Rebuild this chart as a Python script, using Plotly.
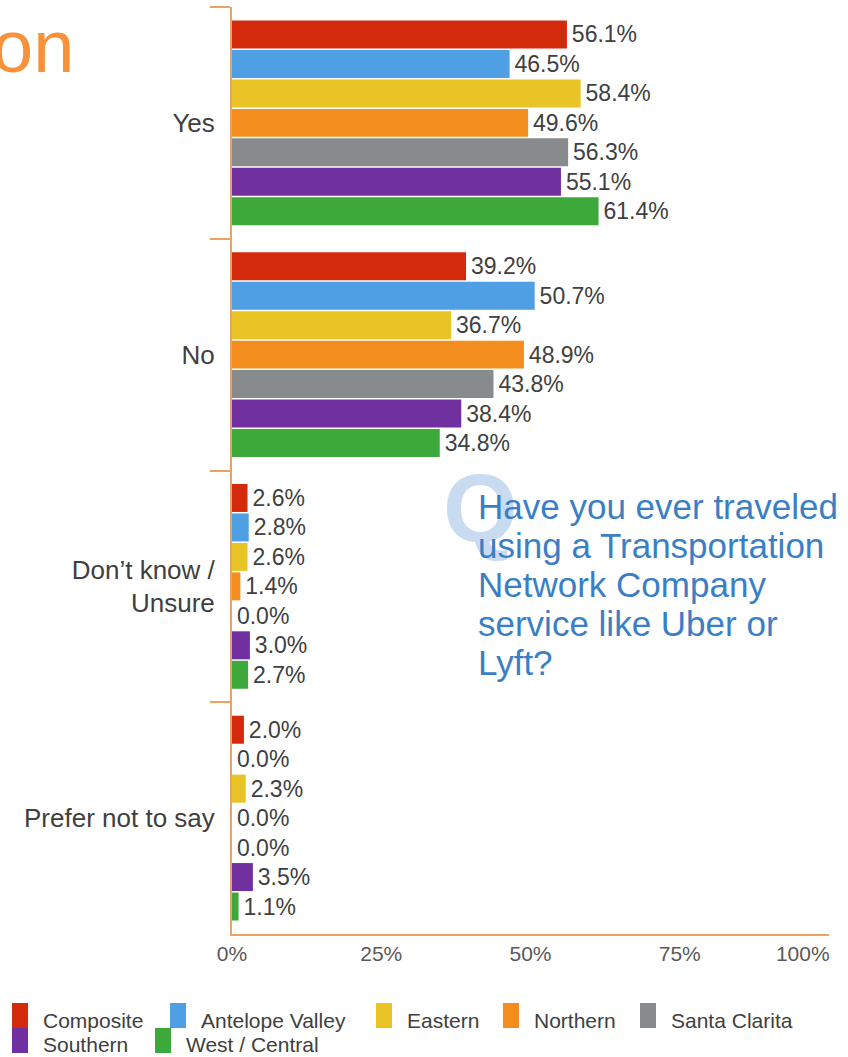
import plotly.graph_objects as go

# Survey responses by region (percent of respondents)
categories = ["Yes", "No", "Don’t know /<br>Unsure", "Prefer not to say"]
series_names = ["Composite", "Antelope Valley", "Eastern", "Northern",
                "Santa Clarita", "Southern", "West / Central"]
composite = [56.1, 39.2, 2.6, 2.0]
antelope_valley = [46.5, 50.7, 2.8, 0.0]
eastern = [58.4, 36.7, 2.6, 2.3]
northern = [49.6, 48.9, 1.4, 0.0]
santa_clarita = [56.3, 43.8, 0.0, 0.0]
southern = [55.1, 38.4, 3.0, 3.5]
west_central = [61.4, 34.8, 2.7, 1.1]
x_ticks = [0, 25, 50, 75, 100]
x_tick_labels = ["0%", "25%", "50%", "75%", "100%"]
question_lines = ["Have you ever traveled", "using a Transportation",
                  "Network Company", "service like Uber or", "Lyft?"]

series_values = [composite, antelope_valley, eastern, northern,
                 santa_clarita, southern, west_central]
colors = ["#d42a0c", "#4f9fe4", "#e8c426", "#f28d1e",
          "#888b8e", "#7030a0", "#3ea93b"]

W, H = 848, 1057
ML, MR, MT, MB = 232, 19, 7, 123
PW, PH = W - ML - MR, H - MT - MB
ORANGE = "#f0a060"
FONT = "Liberation Sans, Arial, sans-serif"
HAIR = "\u200a"


def px_x(px):
    return (px - ML) / PW


def px_y(py):
    return (H - MB - py) / PH


fig = go.Figure()
for name, vals, col in zip(series_names, series_values, colors):
    fig.add_trace(go.Bar(
        y=categories, x=vals, name=name, orientation="h",
        marker=dict(color=col, line=dict(width=0)),
        text=[f"{HAIR}{v:.1f}%" for v in vals], textposition="outside",
        textfont=dict(size=23, color="#404040", family=FONT),
        cliponaxis=False, showlegend=False,
    ))

annotations = [
    # faded "Q" mark behind the question
    dict(x=px_x(480), y=px_y(509), xref="paper", yref="paper",
         text="<b>Q</b>", showarrow=False, xanchor="center", yanchor="middle",
         font=dict(size=96, color="rgba(120,165,220,0.40)", family=FONT)),
    # heading fragment in the top-left corner
    dict(x=px_x(76), y=px_y(46), xref="paper", yref="paper",
         text="on", showarrow=False, xanchor="right", yanchor="middle",
         font=dict(size=74, color="#f7923a", family=FONT)),
]
for i, line in enumerate(question_lines):
    annotations.append(dict(
        x=px_x(476), y=px_y(506 + i * 39), xref="paper", yref="paper",
        text=line, showarrow=False, xanchor="left", yanchor="middle",
        font=dict(size=35, color="#3a7fc6", family=FONT)))

# Legend: colour swatch + series name, two rows under the axis
legend_slots = [(12, 0), (170, 0), (376, 0), (503, 0), (640, 0),
                (12, 1), (155, 1)]
shapes = []
for (lx, row), name, col in zip(legend_slots, series_names, colors):
    top = 1003 + row * 25
    shapes.append(dict(type="rect", xref="paper", yref="paper",
                       x0=px_x(lx), x1=px_x(lx + 16),
                       y0=px_y(top), y1=px_y(top + 25),
                       fillcolor=col, line=dict(width=0), layer="above"))
    annotations.append(dict(
        x=px_x(lx + 29), y=px_y(1020 + row * 24), xref="paper", yref="paper",
        text=name, showarrow=False, xanchor="left", yanchor="middle",
        font=dict(size=21, color="#404040", family=FONT)))

fig.update_layout(
    width=W, height=H,
    margin=dict(l=ML, r=MR, t=MT, b=MB, pad=0, autoexpand=False),
    paper_bgcolor="white", plot_bgcolor="white",
    barmode="group", bargap=0.11, bargroupgap=0.05,
    font=dict(family=FONT, color="#404040"),
    showlegend=False,
    annotations=annotations,
    shapes=shapes,
    xaxis=dict(range=[0, 100], tickvals=x_ticks, automargin=False,
               ticktext=x_tick_labels[:-1] + [x_tick_labels[-1] + "\u00a0" * 9],
               ticklabeloverflow="allow",
               showgrid=False, zeroline=False, showline=True,
               linecolor=ORANGE, linewidth=2, ticks="",
               tickfont=dict(size=21, color="#595959", family=FONT)),
    yaxis=dict(autorange="reversed", showgrid=False, zeroline=False,
               showline=True, linecolor=ORANGE, linewidth=2, automargin=False,
               ticks="outside", tickson="boundaries", ticklen=20,
               tickcolor=ORANGE, tickwidth=2, ticklabelstandoff=10,
               tickfont=dict(size=26, color="#404040", family=FONT)),
)

fig.write_html("out.html")
